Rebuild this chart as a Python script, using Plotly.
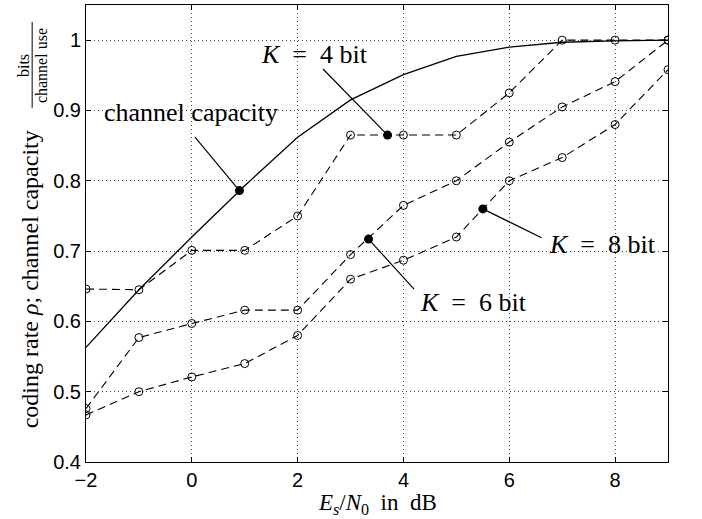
import plotly.graph_objects as go

# ---- data ----
snr_db = [-2, -1, 0, 1, 2, 3, 4, 5, 6, 7, 8, 9]
capacity = [0.563, 0.645, 0.720, 0.793, 0.862, 0.915, 0.951, 0.977, 0.990, 0.997, 0.999, 1.0]
rate_k4 = [0.646, 0.645, 0.701, 0.701, 0.750, 0.865, 0.865, 0.865, 0.925, 1.0, 1.0, 1.0]
rate_k6 = [0.476, 0.577, 0.597, 0.616, 0.616, 0.695, 0.765, 0.800, 0.855, 0.905, 0.941, 1.0]
rate_k8 = [0.467, 0.500, 0.521, 0.540, 0.580, 0.660, 0.687, 0.720, 0.800, 0.833, 0.880, 0.958]

# label markers (filled dots) on curves: (x, y)
label_names = ["channel capacity",
               "<i>K</i>\u00a0 =\u00a0 4 bit",
               "<i>K</i>\u00a0 =\u00a0 6 bit",
               "<i>K</i>\u00a0 =\u00a0 8 bit"]
label_dot_x = [0.90, 3.70, 3.34, 5.50]
label_dot_y = [0.786, 0.865, 0.717, 0.760]
# end of leader line (data coords) and text centre (data coords)
leader_x = [0.06, 2.48, 4.20, 6.61]
leader_y = [0.862, 0.959, 0.646, 0.719]
text_x = [-0.02, 2.31, 5.32, 7.76]
text_y = [0.897, 0.979, 0.627, 0.709]

x_ticks = [-2, 0, 2, 4, 6, 8]
y_ticks = [0.4, 0.5, 0.6, 0.7, 0.8, 0.9, 1.0]

SERIF = "Liberation Serif"
SANS = "Liberation Sans"

fig = go.Figure()

fig.add_trace(go.Scatter(x=snr_db, y=capacity, mode="lines",
                         line=dict(color="black", width=1.3), showlegend=False))
for ys in (rate_k4, rate_k6, rate_k8):
    fig.add_trace(go.Scatter(x=snr_db, y=ys, mode="lines+markers",
                             line=dict(color="black", width=1.1, dash="8px,5px"),
                             marker=dict(symbol="circle-open", size=8,
                                         color="black", line=dict(width=1)),
                             showlegend=False))
fig.add_trace(go.Scatter(x=label_dot_x, y=label_dot_y, mode="markers",
                         marker=dict(symbol="circle", size=9, color="black"),
                         showlegend=False))

annotations = []
for i in range(len(label_names)):
    fig.add_shape(type="line", xref="x", yref="y",
                  x0=label_dot_x[i], y0=label_dot_y[i], x1=leader_x[i], y1=leader_y[i],
                  line=dict(color="black", width=1.2), layer="above")
    annotations.append(dict(x=text_x[i], y=text_y[i], xref="x", yref="y",
                            text=label_names[i], showarrow=False,
                            font=dict(family=SERIF, size=26, color="black"),
                            xanchor="center", yanchor="middle"))

# x-axis title
annotations.append(dict(x=0.5, y=-0.091, xref="paper", yref="paper",
                        text="<i>E</i><sub><i>s</i></sub>/<i>N</i><sub>0</sub>  in  dB",
                        showarrow=False,
                        font=dict(family=SERIF, size=23, color="black"),
                        xanchor="center", yanchor="middle"))

# y-axis title (main part + fraction)
annotations.append(dict(x=-0.096, y=0.400, xref="paper", yref="paper",
                        text="coding rate <i>ρ</i>; channel capacity",
                        textangle=-90, showarrow=False,
                        font=dict(family=SERIF, size=24, color="black"),
                        xanchor="center", yanchor="middle"))
annotations.append(dict(x=-0.107, y=0.868, xref="paper", yref="paper",
                        text="bits", textangle=-90, showarrow=False,
                        font=dict(family=SERIF, size=16, color="black"),
                        xanchor="center", yanchor="middle"))
annotations.append(dict(x=-0.076, y=0.868, xref="paper", yref="paper",
                        text="channel use", textangle=-90, showarrow=False,
                        font=dict(family=SERIF, size=16, color="black"),
                        xanchor="center", yanchor="middle"))

fig.add_shape(type="line", xref="paper", yref="paper",
              x0=-0.0925, x1=-0.0925, y0=0.775, y1=0.963,
              line=dict(color="black", width=1))

axis_common = dict(showline=True, linecolor="black", linewidth=1, mirror="ticks",
                   ticks="inside", ticklen=5, tickcolor="black",
                   showgrid=True, gridcolor="#444", gridwidth=1, griddash="1px,3px",
                   zeroline=False, automargin=False,
                   tickfont=dict(family=SANS, size=20, color="black"))

fig.update_xaxes(range=[-2, 9], tickvals=x_ticks, **axis_common)
fig.update_yaxes(range=[0.4, 1.05], tickvals=y_ticks,
                 ticktext=["0.4", "0.5", "0.6", "0.7", "0.8", "0.9", "1"],
                 **axis_common)

fig.update_layout(width=702, height=519,
                  margin=dict(l=86, r=34, t=5, b=57),
                  paper_bgcolor="white", plot_bgcolor="white",
                  annotations=annotations, showlegend=False)

fig.write_html("out.html")
